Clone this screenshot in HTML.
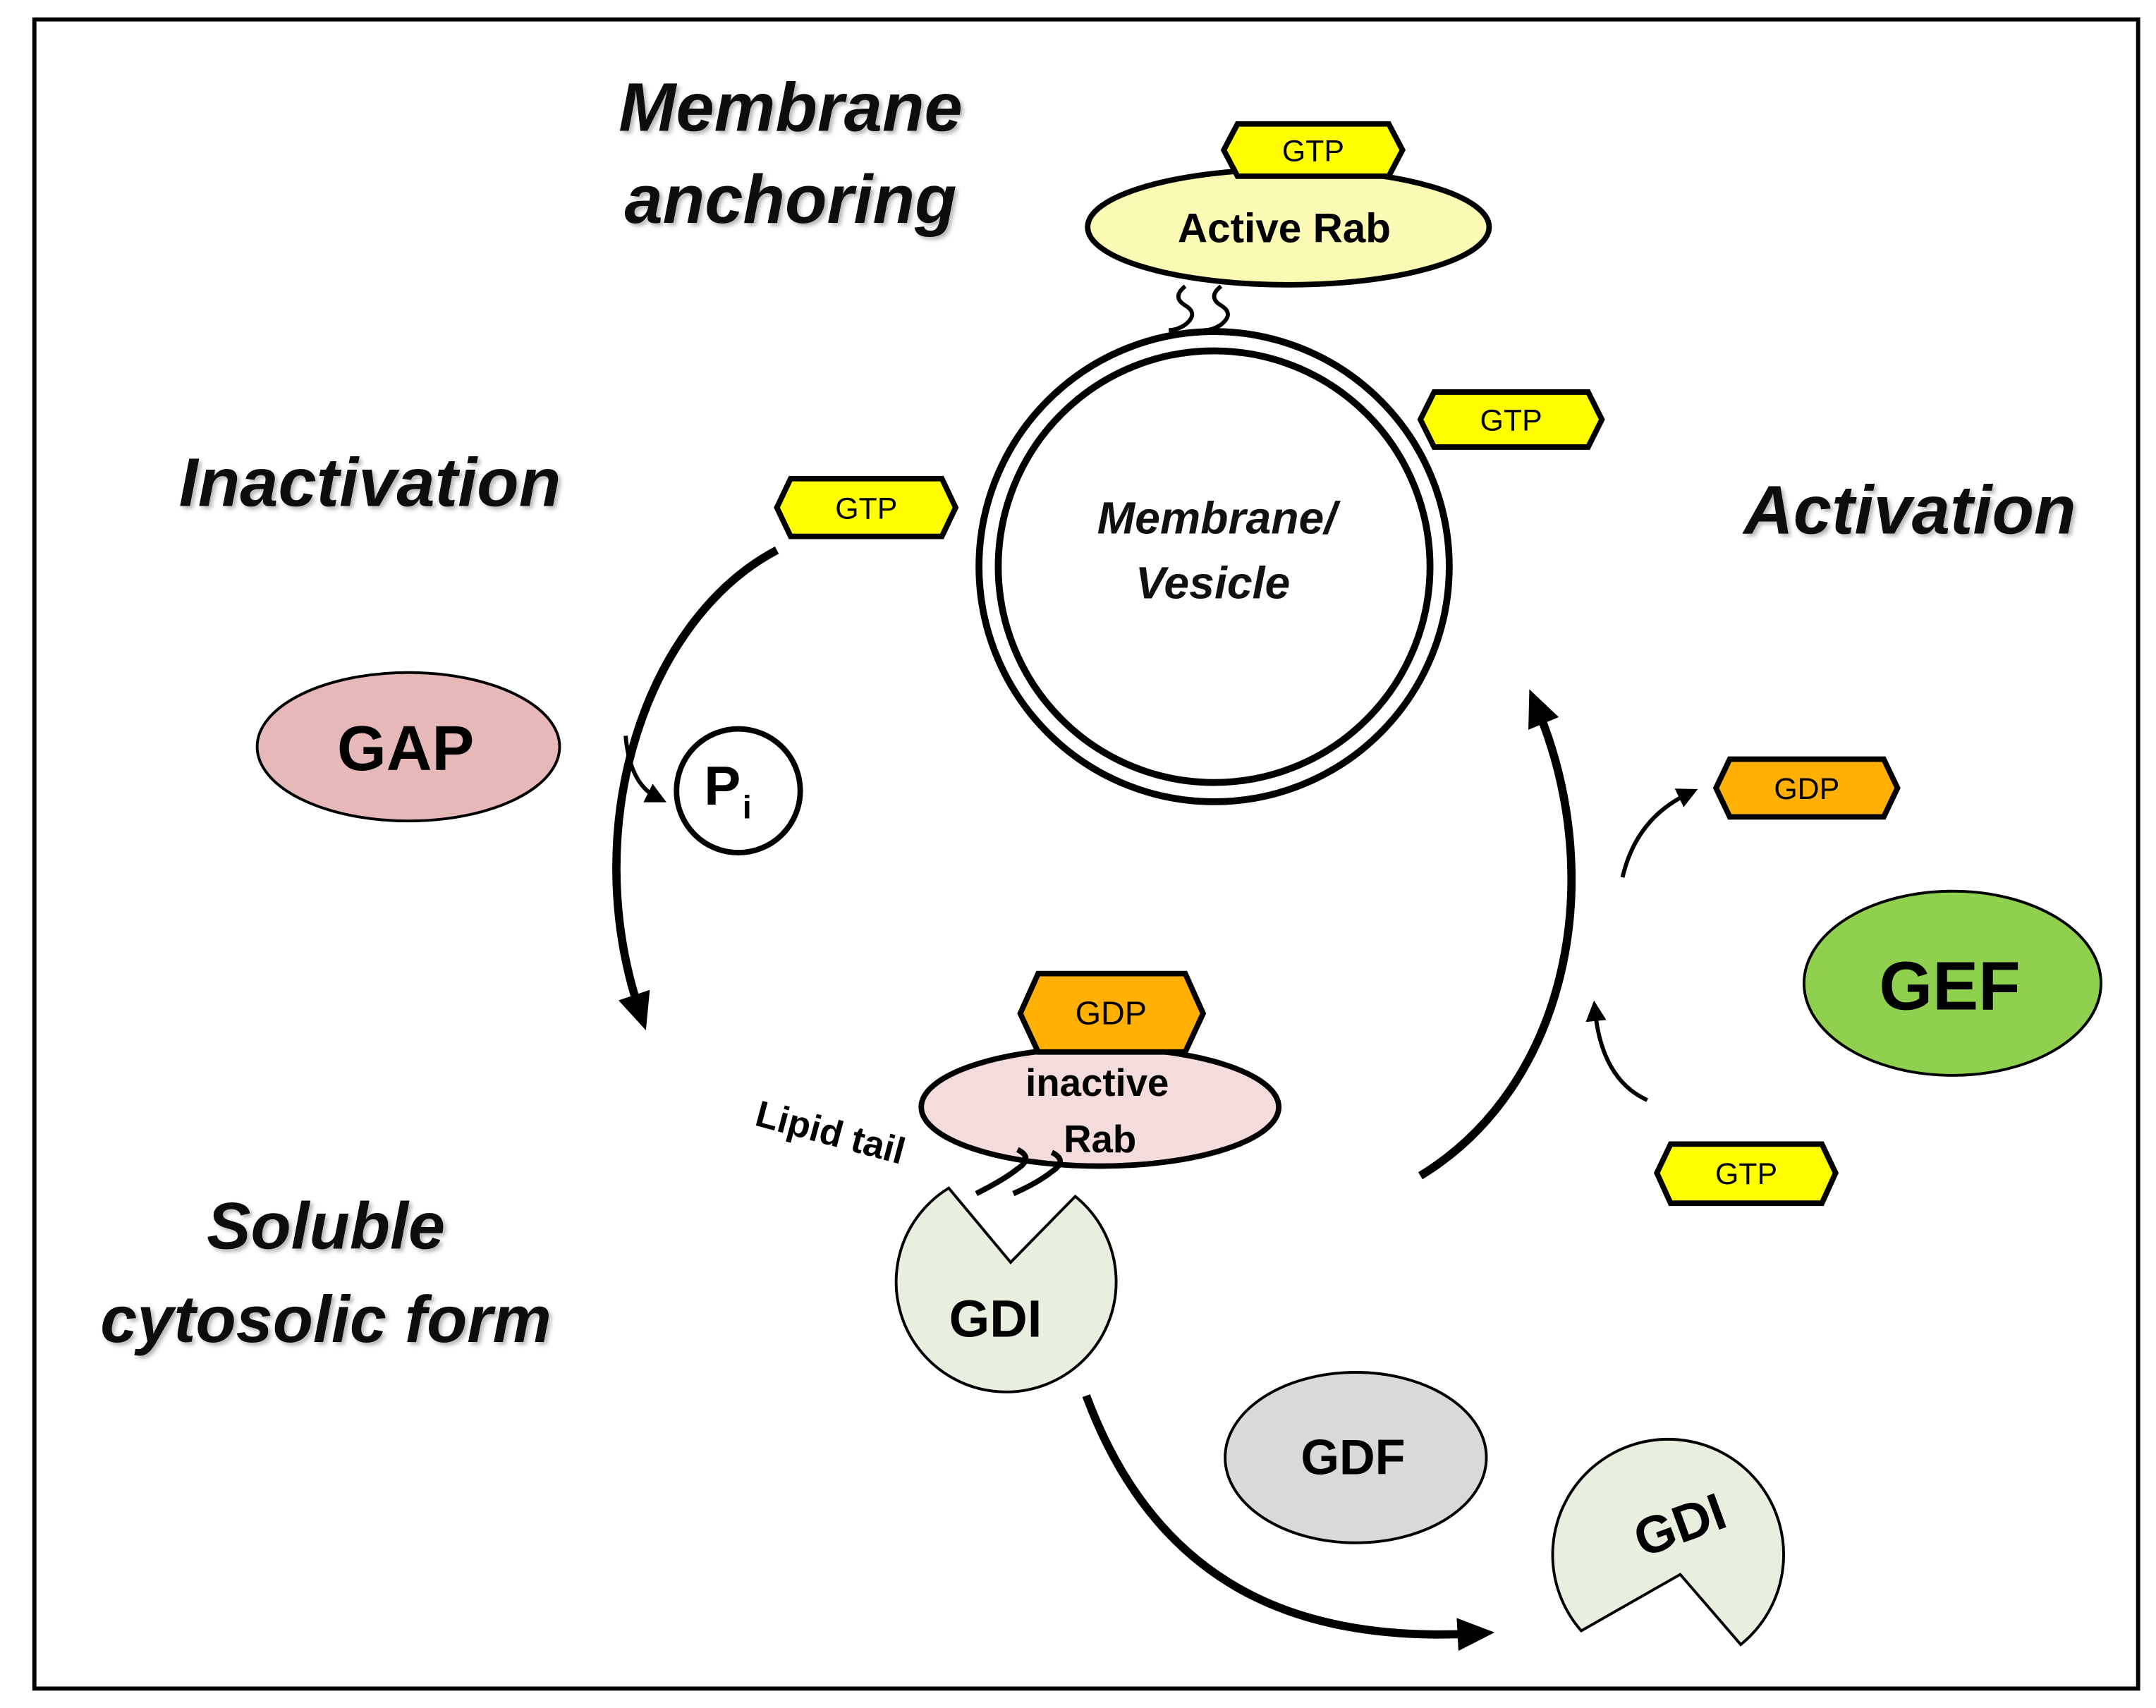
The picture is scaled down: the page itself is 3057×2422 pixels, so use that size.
<!DOCTYPE html>
<html><head><meta charset="utf-8"><style>
html,body{margin:0;padding:0;background:#fff}
svg{display:block}
text{font-family:"Liberation Sans",sans-serif}
</style></head><body>
<svg width="3057" height="2422" viewBox="0 0 1568 1242" xmlns="http://www.w3.org/2000/svg">
<defs>
<marker id="ah" markerWidth="4.5" markerHeight="4" refX="2" refY="2" orient="auto" markerUnits="strokeWidth">
<path d="M0,0 L4.5,2 L0,4 z" fill="#000"/></marker>
<marker id="ah2" markerWidth="5" markerHeight="5" refX="2.5" refY="2.5" orient="auto" markerUnits="strokeWidth">
<path d="M0,0 L5,2.5 L0,5 z" fill="#000"/></marker>
<filter id="sh"><feDropShadow dx="2" dy="2" stdDeviation="1.5" flood-color="#888" flood-opacity="0.6"/></filter>
</defs>
<rect width="1568" height="1242" fill="#fff"/>
<rect x="25" y="14" width="1530" height="1214" fill="none" stroke="#000" stroke-width="3"/>

<g font-weight="bold" font-style="italic" fill="#111" filter="url(#sh)">
<text x="575" y="95" text-anchor="middle" font-size="50">Membrane</text>
<text x="575" y="162" text-anchor="middle" font-size="50">anchoring</text>
<text x="269" y="368" text-anchor="middle" font-size="50">Inactivation</text>
<text x="1389" y="388" text-anchor="middle" font-size="50">Activation</text>
<text x="237" y="908" text-anchor="middle" font-size="48">Soluble</text>
<text x="237" y="976" text-anchor="middle" font-size="48">cytosolic  form</text>
</g>

<circle cx="883" cy="412" r="171" fill="#fff" stroke="#000" stroke-width="5"/>
<circle cx="883" cy="412" r="157" fill="#fff" stroke="#000" stroke-width="5"/>
<g font-weight="bold" font-style="italic" font-size="33" fill="#111" text-anchor="middle">
<text x="885" y="388">Membrane/</text><text x="882" y="435">Vesicle</text></g>

<path d="M862,208 q-10,8 0,14 q10,6 0,14 q-6,4 -12,4" fill="none" stroke="#000" stroke-width="3"/>
<path d="M888,208 q-10,8 0,14 q10,6 0,14 q-6,4 -12,4" fill="none" stroke="#000" stroke-width="3"/>

<ellipse cx="937" cy="165" rx="146" ry="42" fill="#fafab4" stroke="#000" stroke-width="4"/>
<text x="934" y="176" text-anchor="middle" font-weight="bold" font-size="30">Active Rab</text>

<g stroke="#000" stroke-width="4" font-size="22" text-anchor="middle">
<polygon points="900,90 1010,90 1020,109 1010,128 900,128 890,109" fill="#ffff00"/>
<text x="955" y="117" stroke="none">GTP</text>
<polygon points="575,348 685,348 695,369 685,390 575,390 565,369" fill="#ffff00"/>
<text x="630" y="377" stroke="none">GTP</text>
<polygon points="1043,285 1155,285 1165,305 1155,325 1043,325 1033,305" fill="#ffff00"/>
<text x="1099" y="313" stroke="none">GTP</text>
<polygon points="1258,552 1370,552 1380,573 1370,594 1258,594 1248,573" fill="#ffb000"/>
<text x="1314" y="581" stroke="none">GDP</text>
<polygon points="1215,832 1325,832 1335,853 1325,875 1215,875 1205,853" fill="#ffff00"/>
<text x="1270" y="861" stroke="none">GTP</text>
</g>

<path d="M565,400 C470,450 420,600 465,735" fill="none" stroke="#000" stroke-width="6" marker-end="url(#ah)"/>
<path d="M455,535 Q458,570 478,580" fill="none" stroke="#000" stroke-width="3" marker-end="url(#ah2)"/>
<circle cx="537" cy="575" r="45" fill="#fff" stroke="#000" stroke-width="4"/>
<text x="512" y="585" font-family="Liberation Serif,serif" font-weight="bold" font-size="40">P</text>
<text x="540" y="595" font-family="Liberation Serif,serif" font-weight="bold" font-size="24">i</text>

<ellipse cx="297" cy="543" rx="110" ry="54" fill="#e6b8b8" stroke="#000" stroke-width="2"/>
<text x="295" y="560" text-anchor="middle" font-weight="bold" font-size="46">GAP</text>

<ellipse cx="800" cy="805" rx="130" ry="43" fill="#f5dcdc" stroke="#000" stroke-width="4"/>
<polygon points="755,708 862,708 875,737 862,765 755,765 742,737" fill="#ffb000" stroke="#000" stroke-width="4"/>
<text x="808" y="745" text-anchor="middle" font-size="24">GDP</text>
<text x="798" y="797" text-anchor="middle" font-weight="bold" font-size="28">inactive</text>
<text x="800" y="838" text-anchor="middle" font-weight="bold" font-size="28">Rab</text>
<text x="548" y="818" font-weight="bold" font-size="27" transform="rotate(15 548 818)">Lipid tail</text>

<!-- GDI 1 -->
<path d="M735,918 L690,864 A80,80 0 1 0 782,870 Z" fill="#e8efdf" stroke="#000" stroke-width="2"/>
<path d="M740,836 q12,6 0,14 q-10,8 -30,18" fill="none" stroke="#000" stroke-width="4"/>
<path d="M765,838 q12,6 0,14 q-10,8 -28,16" fill="none" stroke="#000" stroke-width="4"/>
<text x="724" y="972" text-anchor="middle" font-weight="bold" font-size="38">GDI</text>

<path d="M1033,855 C1140,790 1170,640 1118,515" fill="none" stroke="#000" stroke-width="6" marker-end="url(#ah)"/>
<path d="M1180,638 Q1190,595 1228,577" fill="none" stroke="#000" stroke-width="3" marker-end="url(#ah2)"/>
<path d="M1198,800 Q1165,785 1160,735" fill="none" stroke="#000" stroke-width="3" marker-end="url(#ah2)"/>

<ellipse cx="1420" cy="715" rx="108" ry="67" fill="#8fd14f" stroke="#000" stroke-width="2"/>
<text x="1418" y="734" text-anchor="middle" font-weight="bold" font-size="50">GEF</text>

<ellipse cx="986" cy="1060" rx="95" ry="62" fill="#d9d9d9" stroke="#000" stroke-width="2"/>
<text x="984" y="1072" text-anchor="middle" font-weight="bold" font-size="36">GDF</text>

<path d="M790,1015 C840,1150 940,1195 1072,1188" fill="none" stroke="#000" stroke-width="6" marker-end="url(#ah)"/>

<!-- GDI 2 -->
<path d="M1222,1145 L1266,1196 A84,84 0 1 0 1150,1186 Z" fill="#e8efdf" stroke="#000" stroke-width="2"/>
<text x="1222" y="1122" text-anchor="middle" font-weight="bold" font-size="38" transform="rotate(-20 1222 1110)">GDI</text>
</svg>
</body></html>
